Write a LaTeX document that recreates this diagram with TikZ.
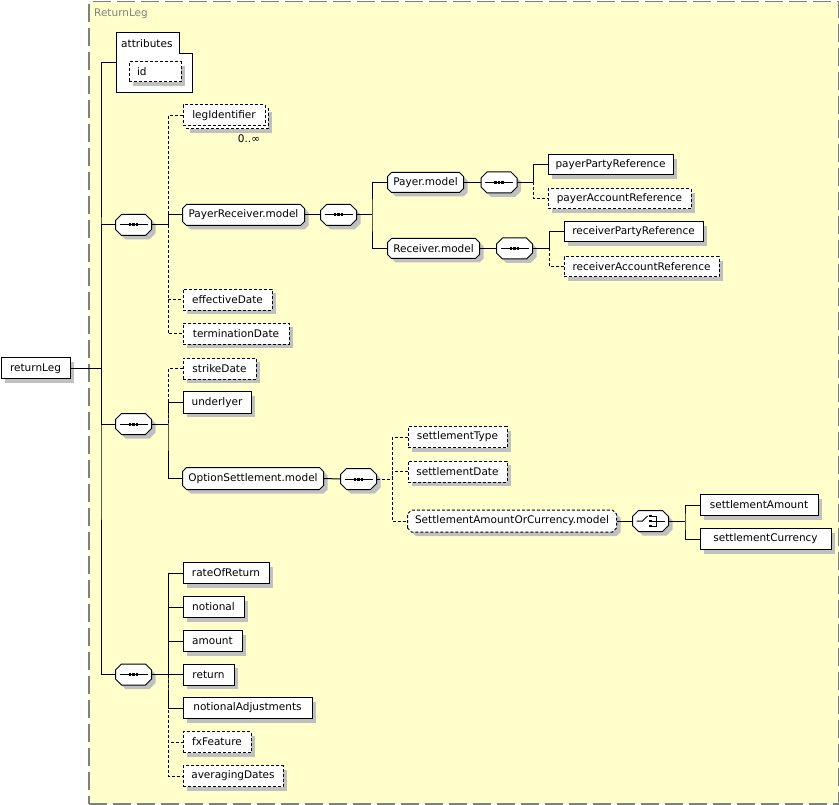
\documentclass[tikz,border=0pt]{standalone}
\usepackage{fontspec}
\setmainfont{DejaVu Sans}
\usetikzlibrary{shadows}
\definecolor{bgyellow}{HTML}{FFFFCC}
\definecolor{framegray}{HTML}{808080}
\definecolor{shadowgray}{HTML}{C0C0C0}
\makeatletter
\newdimen\octxa \newdimen\octya \newdimen\octxb \newdimen\octyb \newdimen\octc
\pgfkeys{/pgf/octo chamfer/.initial=5pt}
\pgfdeclareshape{octo}{%
  \inheritsavedanchors[from=rectangle]%
  \inheritanchorborder[from=rectangle]%
  \inheritanchor[from=rectangle]{center}%
  \inheritanchor[from=rectangle]{north}%
  \inheritanchor[from=rectangle]{south}%
  \inheritanchor[from=rectangle]{west}%
  \inheritanchor[from=rectangle]{east}%
  \inheritanchor[from=rectangle]{north west}%
  \inheritanchor[from=rectangle]{north east}%
  \inheritanchor[from=rectangle]{south west}%
  \inheritanchor[from=rectangle]{south east}%
  \inheritanchor[from=rectangle]{base}%
  \inheritanchor[from=rectangle]{mid}%
  \backgroundpath{%
    \southwest \octxa=\pgf@x \octya=\pgf@y
    \northeast \octxb=\pgf@x \octyb=\pgf@y
    \pgfmathsetlength\octc{\pgfkeysvalueof{/pgf/octo chamfer}}%
    \pgfpathmoveto{\pgfqpoint{\octxa}{\dimexpr\octya+\octc\relax}}%
    \pgfpathlineto{\pgfqpoint{\octxa}{\dimexpr\octyb-\octc\relax}}%
    \pgfpathlineto{\pgfqpoint{\dimexpr\octxa+\octc\relax}{\octyb}}%
    \pgfpathlineto{\pgfqpoint{\dimexpr\octxb-\octc\relax}{\octyb}}%
    \pgfpathlineto{\pgfqpoint{\octxb}{\dimexpr\octyb-\octc\relax}}%
    \pgfpathlineto{\pgfqpoint{\octxb}{\dimexpr\octya+\octc\relax}}%
    \pgfpathlineto{\pgfqpoint{\dimexpr\octxb-\octc\relax}{\octya}}%
    \pgfpathlineto{\pgfqpoint{\dimexpr\octxa+\octc\relax}{\octya}}%
    \pgfpathclose
  }%
}
\makeatother
\tikzset{
  shad/.style={drop shadow={shadow xshift=4pt,shadow yshift=-4pt,fill=shadowgray,opacity=1}},
  box/.style={draw, fill=white, rectangle, line width=1pt, inner sep=0pt, minimum height=21},
  elem/.style={box, shad},
  optl/.style={dash pattern=on 3pt off 2pt},
  modelbox/.style={elem, octo, octo chamfer=4pt, minimum height=20},
  seqbox/.style={draw, fill=white, line width=1pt, octo, octo chamfer=6pt, minimum width=35, minimum height=20, inner sep=0pt, shad,
    path picture={
      \draw[black, line width=1pt] ([xshift=-14pt]path picture bounding box.center) -- ([xshift=14pt]path picture bounding box.center);
      \foreach \dx in {-3.5,0,3.5}{\fill[black] ([xshift=\dx pt-1.2pt, yshift=-1.5pt]path picture bounding box.center) rectangle ++(2.4,-3);}
    }},
  choicebox/.style={draw, fill=white, line width=1pt, octo, octo chamfer=6pt, minimum width=35, minimum height=20, inner sep=0pt, shad,
    path picture={
      \draw[black, line width=1pt] ([xshift=-14pt]path picture bounding box.center) -- ++(6,0) -- ++(5,-5);
      \foreach \dy in {-5,0,5}{
        \fill[black] ([xshift=-1.2pt, yshift=\dy pt-1.2pt]path picture bounding box.center) rectangle ++(2.4,-2.4);
        \draw[black, line width=1pt] ([xshift=1.2pt, yshift=\dy pt]path picture bounding box.center) -- ++(5,0);}
      \draw[black, line width=1pt] ([xshift=6pt, yshift=5.5pt]path picture bounding box.center) -- ++(0,11);
      \draw[black, line width=1pt] ([xshift=6pt]path picture bounding box.center) -- ++(8,0);
    }},
  conn/.style={line width=1pt},
  dconn/.style={conn, dash pattern=on 3pt off 2pt},
}
\begin{document}
\begin{tikzpicture}[x=1pt,y=-1pt,font=\fontsize{10.5}{12}\selectfont]
\useasboundingbox (0,0) rectangle (839,805);
% frame
\node[draw=framegray, fill=bgyellow, line width=1.5pt, dash pattern=on 18pt off 6pt, minimum width=750, minimum height=802, inner sep=0pt, anchor=north west] (frame) at (88,1) {};
\node[anchor=west, inner sep=0pt, text=framegray] (framelbl) at (94,13.5) {ReturnLeg};
% root
\node[elem, minimum width=69] (rl) at (35.5,368.5) {returnLeg};
% attributes
\node[minimum width=76, minimum height=59, inner sep=0pt, anchor=north west] (attr) at (116,33) {};
\draw[conn, fill=white] (attr.north west) -- ++(63,0) -- ++(0,21) -- ++(13,0) |- (attr.south west) -- cycle;
\node[anchor=west, inner sep=0pt] (attrlbl) at (121,43.5) {attributes};
\node[elem, optl, minimum width=52, minimum height=20] (idb) at (155,72) {\makebox[36pt][l]{id}};
% sequences
\node[seqbox] (s1) at (133.5,225) {};
\node[seqbox] (s2) at (133.5,424) {};
\node[seqbox] (s3) at (133.5,674.5) {};
\node[seqbox] (s4) at (338.5,215) {};
\node[seqbox] (s5) at (499,182.5) {};
\node[seqbox] (s6) at (514.5,248.5) {};
\node[seqbox] (s7) at (358.5,479) {};
\node[choicebox] (c1) at (650.5,521) {};
% group 1
\node[elem, optl, minimum width=82] (legback) at (227,118.5) {};
\node[box, optl, minimum width=82] (leg) at (224,115.5) {legIdentifier};
\node[inner sep=0pt] (occ) at (249,139) {0..∞};
\node[modelbox, minimum width=121] (pr) at (243.5,215) {PayerReceiver.model};
\node[elem, optl, minimum width=89] (eff) at (227.5,300) {effectiveDate};
\node[elem, optl, minimum width=106] (term) at (236,334) {terminationDate};
\node[modelbox, minimum width=75, minimum height=19] (pm) at (425.5,182.5) {Payer.model};
\node[modelbox, minimum width=91, minimum height=19] (rm) at (433.5,248.5) {Receiver.model};
\node[elem, minimum width=125, minimum height=20] (ppr) at (610.5,165) {payerPartyReference};
\node[elem, optl, minimum width=143, minimum height=20] (par) at (619.5,199) {payerAccountReference};
\node[elem, minimum width=139, minimum height=20] (rpr) at (633.5,232) {receiverPartyReference};
\node[elem, optl, minimum width=155, minimum height=20] (rar) at (641.5,267) {receiverAccountReference};
% group 2
\node[elem, optl, minimum width=73] (strike) at (219.5,369) {strikeDate};
\node[elem, minimum width=68] (under) at (217,402.5) {underlyer};
\node[modelbox, minimum width=140, minimum height=21] (opt) at (253,478.5) {OptionSettlement.model};
\node[elem, optl, minimum width=99] (stype) at (457.5,437) {settlementType};
\node[elem, optl, minimum width=99] (sdate) at (457.5,471.5) {settlementDate};
\node[modelbox, optl, minimum width=208, minimum height=21] (saoc) at (512,521) {SettlementAmountOrCurrency.model};
\node[elem, minimum width=118] (samt) at (759,505) {settlementAmount};
\node[elem, minimum width=131] (scur) at (765.5,539) {settlementCurrency};
% group 3
\node[elem, minimum width=86] (rate) at (226,573) {rateOfReturn};
\node[elem, minimum width=61] (notional) at (213.5,607) {notional};
\node[elem, minimum width=59] (amount) at (212.5,641) {amount};
\node[elem, minimum width=51] (ret) at (208.5,674.5) {return};
\node[elem, minimum width=129] (nadj) at (247.5,708) {notionalAdjustments};
\node[elem, optl, minimum width=68] (fx) at (217,742) {fxFeature};
\node[elem, optl, minimum width=100] (avg) at (233,776) {averagingDates};
% bus coordinates
\coordinate (trunk) at (101,368.5);
\coordinate (b1) at (168,225);
\coordinate (b2) at (168,424);
\coordinate (b3) at (168,674.5);
\coordinate (b4) at (372,215);
\coordinate (b5) at (533,182.5);
\coordinate (b6) at (549,248.5);
\coordinate (b7) at (392,479);
\coordinate (b8) at (685,521);
% connectors: root
\draw[conn] (rl.east) -- (trunk);
\draw[conn] (attr.west) -| (trunk) |- (s3.west);
\draw[conn] (trunk) |- (s1.west);
\draw[conn] (trunk) |- (s2.west);
% group 1
\draw[conn] (s1.east) -- (b1);
\draw[dconn] (leg.west) -| (b1);
\draw[dconn] (b1) |- (eff.west);
\draw[dconn] (b1) |- (term.west);
\draw[conn] (pr.west) -| (b1);
\draw[conn] (pr.east) -- (s4.west);
\draw[conn] (s4.east) -- (b4);
\draw[conn] (pm.west) -| (b4) |- (rm.west);
\draw[conn] (pm.east) -- (s5.west);
\draw[conn] (s5.east) -- (b5);
\draw[dconn] (b5) |- (par.west);
\draw[conn] (ppr.west) -| (b5);
\draw[conn] (rm.east) -- (s6.west);
\draw[conn] (s6.east) -- (b6);
\draw[dconn] (b6) |- (rar.west);
\draw[conn] (rpr.west) -| (b6);
% group 2
\draw[conn] (s2.east) -- (b2);
\draw[dconn] (strike.west) -| (b2);
\draw[conn] (under.west) -| (b2) |- (opt.west);
\draw[conn] (opt.east) -- (s7.west);
\draw[dconn] (s7.east) -- (b7);
\draw[dconn] (stype.west) -| (b7) |- (saoc.west);
\draw[dconn] (sdate.west) -| (b7);
\draw[conn] (saoc.east) -- (c1.west);
\draw[conn] (c1.east) -- (b8);
\draw[conn] (samt.west) -| (b8) |- (scur.west);
% group 3
\draw[conn] (s3.east) -- (b3);
\draw[dconn] (b3) |- (fx.west);
\draw[dconn] (b3) |- (avg.west);
\draw[conn] (rate.west) -| (b3) |- (nadj.west);
\draw[conn] (notional.west) -| (b3);
\draw[conn] (amount.west) -| (b3);
\draw[conn] (ret.west) -- (b3);
\end{tikzpicture}
\end{document}
